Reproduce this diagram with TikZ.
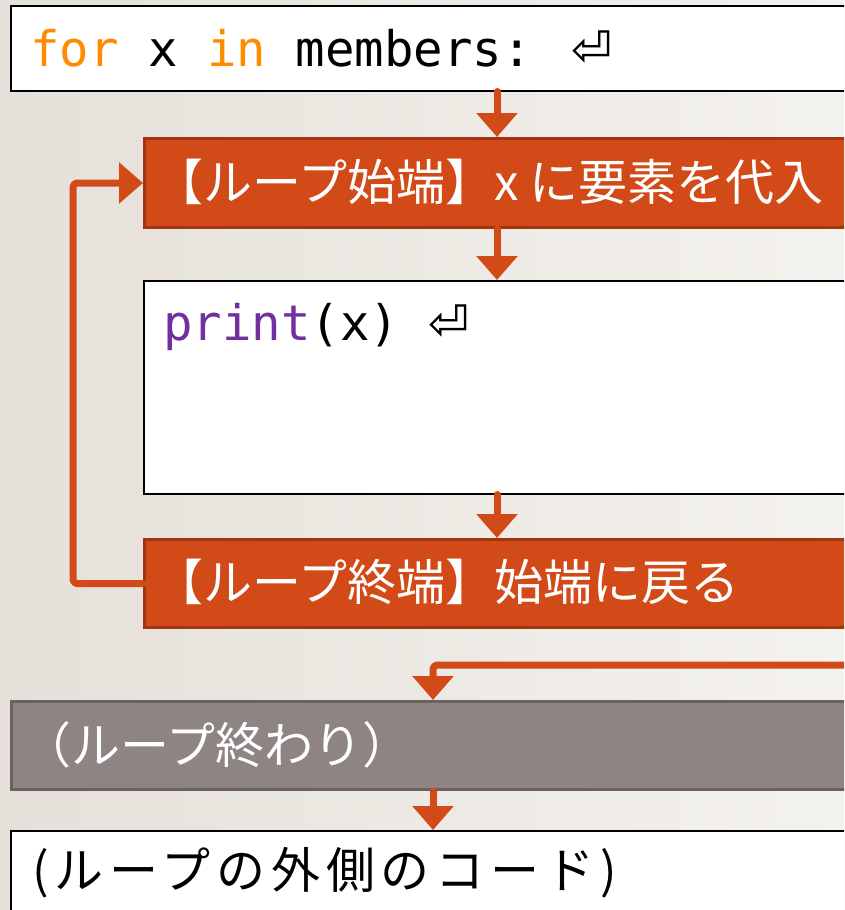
\documentclass[tikz,border=0pt]{standalone}
\usepackage{fontspec}
\usetikzlibrary{arrows.meta}
\newfontfamily\jpfont{Noto Sans CJK JP}
\newfontfamily\jpwidefont[LetterSpace=12]{Noto Sans CJK JP}
\newfontfamily\codefont{DejaVu Sans Mono}
\newfontfamily\symfont{DejaVu Sans}
\definecolor{orfill}{HTML}{D24A18}
\definecolor{ordraw}{HTML}{A0360F}
\definecolor{grfill}{HTML}{8E8483}
\definecolor{grdraw}{HTML}{6B6260}
\definecolor{kwor}{HTML}{FF8C00}
\definecolor{kwpur}{HTML}{7030A0}
\definecolor{bgleft}{HTML}{E5E0D9}
\definecolor{bgright}{HTML}{F4F2EE}
\begin{document}
\begin{tikzpicture}[x=1pt,y=-1pt,
  whitebox/.style={draw=black, line width=1.5pt, fill=white, anchor=north west, inner sep=0pt, minimum width=900pt},
  orbox/.style={draw=ordraw, line width=3pt, fill=orfill, anchor=north west, inner sep=0pt, minimum width=800pt},
  graybox/.style={draw=grdraw, line width=3pt, fill=grfill, anchor=north west, inner sep=0pt, minimum width=900pt},
  flow/.style={draw=orfill, line width=7pt, line cap=round, line join=round, rounded corners=4pt, -{Triangle[width=40pt,length=24pt]}},
  jptext/.style={font=\jpfont\fontsize{49}{54}\selectfont, inner sep=0pt, anchor=west},
  codetext/.style={font=\codefont\fontsize{49}{53}\selectfont, inner sep=0pt, anchor=base west}
]
\useasboundingbox (0,0) rectangle (844,910);
\clip (0,0) rectangle (844,910);
\shade[left color=bgleft, right color=bgright] (0,0) rectangle (844,910);

% boxes
\node[whitebox, minimum height=85pt] (forbox) at (10,5) {};
\node[orbox, minimum height=89pt] (start) at (143,137) {};
\node[whitebox, minimum height=213pt] (body) at (143,280) {};
\node[orbox, minimum height=88pt] (end) at (143,538) {};
\node[graybox, minimum height=88pt] (done) at (10,700) {};
\node[whitebox, minimum height=120pt] (after) at (10,830) {};

% texts
\node[codetext] (fortxt) at (30,66) {\textcolor{kwor}{for} x \textcolor{kwor}{in} members: {\symfont ⏎}};
\node[codetext] (printtxt) at (163,340) {\textcolor{kwpur}{print}(x) {\symfont ⏎}};
\node[jptext, text=white] (starttxt) at (154,182) {【ループ始端】x に要素を代入};
\node[jptext, text=white] (endtxt) at (154,582) {【ループ終端】始端に戻る};
\node[jptext, text=white] (donetxt) at (22,745) {（ループ終わり）};
\node[jptext, text=black, font=\jpwidefont\fontsize{49}{54}\selectfont] (aftertxt) at (32,873) {(ループの外側のコード)};

% connectors
\coordinate (mainx) at (497,0);
\coordinate (exitx) at (433,0);
\coordinate (loopx) at (73,0);
\coordinate (exitin) at (870,665);
\draw[flow] (forbox.south -| mainx) -- (start.north -| mainx);
\draw[flow] (start.south -| mainx) -- (body.north -| mainx);
\draw[flow] (body.south -| mainx) -- (end.north -| mainx);
\draw[flow] (end.west) -- (end.west -| loopx) -- (start.west -| loopx) -- (start.west);
\draw[flow] (exitin) -- (exitin -| exitx) -- (done.north -| exitx);
\draw[flow] (done.south -| exitx) -- (after.north -| exitx);
\end{tikzpicture}
\end{document}
